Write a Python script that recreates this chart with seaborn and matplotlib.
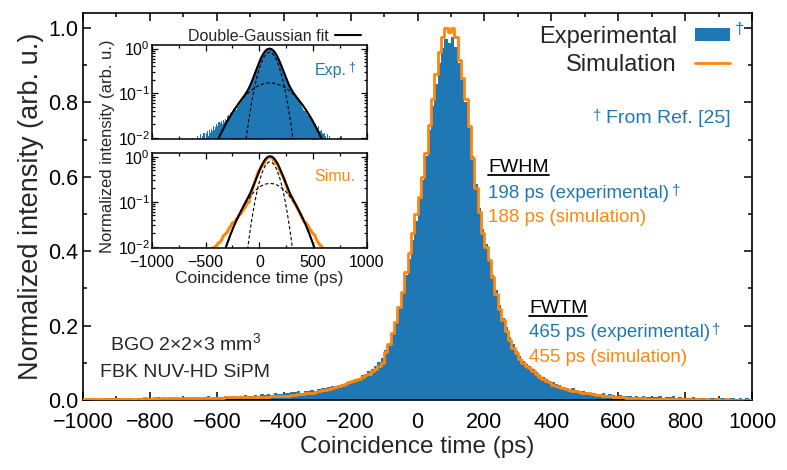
import numpy as np
import pandas as pd
import matplotlib
matplotlib.use('Agg')
import matplotlib.pyplot as plt
import seaborn as sns
from matplotlib.patches import Patch
from matplotlib.lines import Line2D
from matplotlib.ticker import MultipleLocator, LogLocator, NullFormatter

BLUE = '#1f77b4'
ORANGE = '#ff860d'

# experimental histogram, 10 ps bins from -1000 to 1000 ps (one row = 100 ps)
exp_counts = [
    0.003, 0.005, 0.002, 0.004, 0.003, 0.006, 0.002, 0.004, 0.005, 0.003,
    0.004, 0.003, 0.006, 0.004, 0.005, 0.003, 0.006, 0.004, 0.003, 0.005,
    0.005, 0.004, 0.007, 0.005, 0.004, 0.006, 0.008, 0.005, 0.006, 0.004,
    0.006, 0.008, 0.005, 0.007, 0.009, 0.006, 0.007, 0.010, 0.006, 0.008,
    0.009, 0.007, 0.011, 0.008, 0.010, 0.012, 0.009, 0.011, 0.013, 0.010,
    0.012, 0.014, 0.011, 0.015, 0.013, 0.016, 0.014, 0.018, 0.015, 0.017,
    0.020, 0.018, 0.022, 0.021, 0.024, 0.020, 0.025, 0.023, 0.027, 0.025,
    0.030, 0.033, 0.031, 0.036, 0.038, 0.035, 0.041, 0.044, 0.042, 0.048,
    0.052, 0.056, 0.060, 0.066, 0.070, 0.077, 0.084, 0.092, 0.102, 0.114,
    0.135, 0.150, 0.180, 0.210, 0.250, 0.290, 0.335, 0.380, 0.430, 0.480,
    0.540, 0.590, 0.655, 0.725, 0.790, 0.850, 0.905, 0.945, 0.970, 0.960,
    0.975, 0.950, 0.905, 0.860, 0.800, 0.730, 0.655, 0.580, 0.515, 0.460,
    0.420, 0.380, 0.335, 0.295, 0.255, 0.220, 0.195, 0.170, 0.150, 0.132,
    0.118, 0.106, 0.097, 0.091, 0.082, 0.076, 0.068, 0.062, 0.057, 0.052,
    0.047, 0.042, 0.039, 0.036, 0.033, 0.030, 0.031, 0.027, 0.025, 0.023,
    0.021, 0.019, 0.020, 0.017, 0.016, 0.018, 0.014, 0.015, 0.013, 0.012,
    0.013, 0.011, 0.010, 0.012, 0.009, 0.011, 0.008, 0.010, 0.009, 0.008,
    0.009, 0.007, 0.010, 0.006, 0.008, 0.007, 0.011, 0.006, 0.007, 0.005,
    0.006, 0.004, 0.007, 0.005, 0.004, 0.006, 0.003, 0.005, 0.004, 0.006,
    0.004, 0.005, 0.003, 0.004, 0.006, 0.003, 0.004, 0.002, 0.005, 0.003,
]

# simulated histogram, 10 ps bins from -1000 to 1000 ps (one row = 100 ps)
sim_counts = [
    0.002, 0.002, 0.003, 0.002, 0.002, 0.003, 0.002, 0.003, 0.002, 0.003,
    0.003, 0.002, 0.003, 0.003, 0.003, 0.002, 0.003, 0.003, 0.004, 0.003,
    0.003, 0.004, 0.003, 0.004, 0.004, 0.004, 0.004, 0.005, 0.004, 0.005,
    0.005, 0.005, 0.005, 0.006, 0.005, 0.006, 0.006, 0.006, 0.006, 0.006,
    0.006, 0.006, 0.007, 0.007, 0.007, 0.007, 0.007, 0.008, 0.008, 0.008,
    0.008, 0.008, 0.009, 0.009, 0.009, 0.009, 0.010, 0.010, 0.010, 0.011,
    0.011, 0.012, 0.013, 0.014, 0.015, 0.017, 0.018, 0.019, 0.020, 0.021,
    0.024, 0.026, 0.028, 0.030, 0.033, 0.036, 0.038, 0.041, 0.044, 0.047,
    0.050, 0.053, 0.057, 0.061, 0.066, 0.071, 0.077, 0.084, 0.092, 0.100,
    0.130, 0.150, 0.180, 0.210, 0.250, 0.290, 0.345, 0.395, 0.450, 0.500,
    0.545, 0.600, 0.665, 0.740, 0.810, 0.875, 0.935, 0.975, 1.000, 0.990,
    1.000, 0.975, 0.915, 0.865, 0.810, 0.735, 0.650, 0.570, 0.505, 0.450,
    0.410, 0.375, 0.330, 0.285, 0.245, 0.215, 0.185, 0.160, 0.140, 0.125,
    0.110, 0.100, 0.092, 0.085, 0.078, 0.070, 0.063, 0.057, 0.052, 0.047,
    0.041, 0.038, 0.035, 0.032, 0.030, 0.027, 0.025, 0.023, 0.021, 0.020,
    0.019, 0.018, 0.016, 0.014, 0.013, 0.012, 0.011, 0.010, 0.009, 0.008,
    0.007, 0.007, 0.006, 0.005, 0.005, 0.004, 0.004, 0.004, 0.003, 0.003,
    0.003, 0.003, 0.003, 0.002, 0.003, 0.002, 0.002, 0.002, 0.002, 0.002,
    0.002, 0.002, 0.001, 0.002, 0.002, 0.001, 0.002, 0.001, 0.001, 0.002,
    0.001, 0.001, 0.002, 0.001, 0.001, 0.001, 0.001, 0.001, 0.001, 0.001,
]

# double-gaussian fit components: amplitude, mean (ps), sigma (ps)
exp_fit_narrow = [0.83, 95, 73]
exp_fit_wide = [0.17, 100, 200]
sim_fit_narrow = [0.77, 100, 70]
sim_fit_wide = [0.255, 100, 161]

bin_edges = list(range(-1000, 1001, 10))
exp_df = pd.DataFrame({'t': np.array(bin_edges[:-1]) + 5, 'n': exp_counts})
sim_df = pd.DataFrame({'t': np.array(bin_edges[:-1]) + 5, 'n': sim_counts})


def gauss(x, p):
    a, mu, s = p
    return a * np.exp(-0.5 * ((x - mu) / s) ** 2)


sns.set_theme(style='ticks')
plt.rcParams['font.family'] = ['Liberation Sans', 'DejaVu Sans']
plt.rcParams['mathtext.fontset'] = 'custom'
plt.rcParams['mathtext.rm'] = 'Liberation Sans'
plt.rcParams['mathtext.it'] = 'Liberation Sans:italic'
plt.rcParams['mathtext.bf'] = 'Liberation Sans:bold'
plt.rcParams['axes.edgecolor'] = 'black'
plt.rcParams['xtick.color'] = 'black'
plt.rcParams['ytick.color'] = 'black'

fig = plt.figure(figsize=(7.87, 4.70), dpi=100)
ax = fig.add_axes([0.1055, 0.149, 0.8501, 0.8233])

sns.histplot(data=exp_df, x='t', weights='n', bins=bin_edges, element='step',
             fill=True, alpha=1, linewidth=0, color=BLUE, ax=ax, zorder=2)
sns.histplot(data=sim_df, x='t', weights='n', bins=bin_edges, element='step',
             fill=False, linewidth=2.0, color=ORANGE, ax=ax, zorder=3)

ax.set_xlim(-1000, 1000)
ax.set_ylim(0, 1.04)
ax.xaxis.set_major_locator(MultipleLocator(200))
ax.xaxis.set_minor_locator(MultipleLocator(100))
ax.yaxis.set_major_locator(MultipleLocator(0.2))
ax.yaxis.set_minor_locator(MultipleLocator(0.1))
ax.yaxis.set_major_formatter(matplotlib.ticker.FormatStrFormatter('%.1f'))
ax.tick_params(which='both', direction='in', top=True, right=True, width=1.1)
ax.tick_params(which='major', length=6, labelsize=15.5)
ax.tick_params(which='minor', length=3)
ax.tick_params(axis='x', pad=9)
ax.tick_params(axis='y', pad=3.5)
for s in ax.spines.values():
    s.set_linewidth(1.2)
ax.set_xlabel('Coincidence time (ps)', fontsize=17.5, labelpad=2)
ax.set_ylabel('Normalized intensity (arb. u.)', fontsize=19.5, labelpad=3)

# legend
handles = [Patch(facecolor=BLUE, edgecolor='none'), Line2D([], [], color=ORANGE, lw=2)]
ax.legend(handles, ['Experimental', 'Simulation'], loc='upper right',
          bbox_to_anchor=(0.967, 0.967), frameon=False, markerfirst=False,
          fontsize=17, handlelength=1.5, handleheight=0.5, handletextpad=0.75,
          labelspacing=0.25, borderpad=0, borderaxespad=0)
ax.text(0.9745, 0.958, '†', transform=ax.transAxes, color=BLUE, fontsize=12,
        ha='left', va='center')

ref = ax.text(935, 0.756, 'From Ref. [25]', color=BLUE, fontsize=14,
              ha='right', va='center')
ax.annotate('†', xy=(0, 1), xycoords=ref, xytext=(-3, 1), textcoords='offset points',
            ha='right', va='top', color=BLUE, fontsize=11)

fwhm = ax.text(212, 0.625, 'FWHM', fontsize=14, ha='left', va='center', color='black')
t1 = ax.text(212, 0.555, '198 ps (experimental)', fontsize=13.5, ha='left',
             va='center', color=BLUE)
ax.annotate('†', xy=(1, 1), xycoords=t1, xytext=(1.5, 1), textcoords='offset points',
            ha='left', va='top', color=BLUE, fontsize=11)
ax.text(212, 0.491, '188 ps (simulation)', fontsize=13.5, ha='left', va='center',
        color=ORANGE)

fwtm = ax.text(333, 0.247, 'FWTM', fontsize=14, ha='left', va='center', color='black')
t2 = ax.text(333, 0.180, '465 ps (experimental)', fontsize=13.5, ha='left',
             va='center', color=BLUE)
ax.annotate('†', xy=(1, 1), xycoords=t2, xytext=(1.5, 1), textcoords='offset points',
            ha='left', va='top', color=BLUE, fontsize=11)
ax.text(333, 0.115, '455 ps (simulation)', fontsize=13.5, ha='left', va='center',
        color=ORANGE)

ax.text(-694, 0.153, 'BGO 2×2×3 mm$^3$', fontsize=14, ha='center', va='center')
ax.text(-694, 0.075, 'FBK NUV-HD SiPM', fontsize=14, ha='center', va='center')

# insets
xfit = np.linspace(-1000, 1000, 801)
ax_up = fig.add_axes([0.193, 0.704, 0.273, 0.200])
ax_lo = fig.add_axes([0.193, 0.472, 0.273, 0.202])

sns.histplot(data=exp_df, x='t', weights='n', bins=bin_edges, element='bars',
             fill=True, alpha=1, linewidth=0, color=BLUE, ax=ax_up)
sim_inset = sim_df.assign(n=np.maximum(sim_df['n'], 0.0096))
sns.histplot(data=sim_inset, x='t', weights='n', bins=bin_edges, element='step',
             fill=False, linewidth=1.8, color=ORANGE, ax=ax_lo)

for a, narrow, wide in [(ax_up, exp_fit_narrow, exp_fit_wide),
                        (ax_lo, sim_fit_narrow, sim_fit_wide)]:
    a.plot(xfit, gauss(xfit, narrow), color='black', lw=0.8, ls=(0, (3, 2)), zorder=4)
    a.plot(xfit, gauss(xfit, wide), color='black', lw=0.8, ls=(0, (3, 2)), zorder=4)
    a.plot(xfit, gauss(xfit, narrow) + gauss(xfit, wide), color='black', lw=1.5, zorder=5)
    a.set_yscale('log')
    a.set_xlim(-1000, 1000)
    a.set_ylim(0.0093, 1.2)
    a.xaxis.set_major_locator(MultipleLocator(500))
    a.xaxis.set_minor_locator(MultipleLocator(250))
    a.yaxis.set_major_locator(LogLocator(base=10, numticks=5))
    a.yaxis.set_minor_locator(LogLocator(base=10, subs=np.arange(2, 10), numticks=10))
    a.yaxis.set_minor_formatter(NullFormatter())
    a.tick_params(which='both', direction='in', top=True, right=True, width=0.9)
    a.tick_params(which='major', length=4, labelsize=11.5, pad=1.5)
    a.tick_params(which='minor', length=2)
    a.set_ylabel('')
    for s in a.spines.values():
        s.set_linewidth(1.1)

ax_up.set_xlabel('')
ax_up.tick_params(axis='x', labelbottom=False)
ax_lo.tick_params(axis='x', pad=5)
ax_lo.set_xlabel('Coincidence time (ps)', fontsize=12.5, labelpad=1)
fig.text(0.137, 0.688, 'Normalized intensity (arb. u.)', rotation=90, fontsize=12,
         ha='center', va='center')

ax_up.legend([Line2D([], [], color='black', lw=1.5)], ['Double-Gaussian fit'],
             loc='lower right', bbox_to_anchor=(0.98, 1.0), frameon=False,
             markerfirst=False, fontsize=11.5, handlelength=1.6, handletextpad=0.4,
             borderpad=0.1, borderaxespad=0)

e = ax_up.text(0.758, 0.735, 'Exp.', transform=ax_up.transAxes, fontsize=11.5,
               color=BLUE, ha='left', va='center')
ax_up.annotate('†', xy=(1, 1), xycoords=e, xytext=(1, 1), textcoords='offset points',
               ha='left', va='top', color=BLUE, fontsize=9)
ax_lo.text(0.758, 0.75, 'Simu.', transform=ax_lo.transAxes, fontsize=11.5,
           color=ORANGE, ha='left', va='center')

# underline FWHM / FWTM
fig.canvas.draw()
inv = fig.transFigure.inverted()
for t in (fwhm, fwtm):
    bb = t.get_window_extent()
    (x0, y0), (x1, _) = inv.transform([(bb.x0, bb.y0 + 1), (bb.x1, bb.y0 + 1)])
    fig.add_artist(Line2D([x0, x1], [y0, y0], color='black', lw=1.3,
                          transform=fig.transFigure))

fig.savefig('out.png', dpi=100)
